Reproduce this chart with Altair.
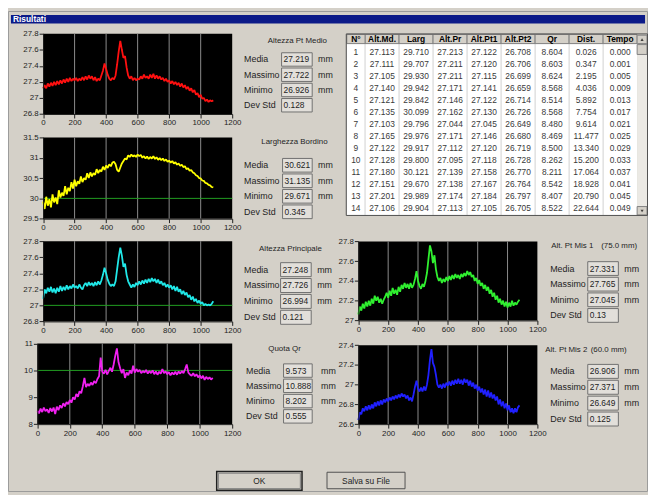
import altair as alt
import pandas as pd

FONT = "Liberation Sans"
DIALOG = "#d4d0c8"
TXT = "#1e1e1e"
W, H = 648, 487

# sample index along the measured profile
sample = list(range(0, 1090, 10))

alt_pt_medio = [
    27.12, 27.16, 27.12, 27.18, 27.14, 27.19, 27.15, 27.20, 27.16, 27.21,
    27.17, 27.22, 27.18, 27.23, 27.19, 27.24, 27.20, 27.25, 27.21, 27.24,
    27.22, 27.25, 27.21, 27.24, 27.22, 27.26, 27.22, 27.27, 27.23, 27.28,
    27.24, 27.27, 27.22, 27.26, 27.21, 27.24, 27.22, 27.28, 27.34, 27.43,
    27.36, 27.29, 27.24, 27.22, 27.25, 27.23, 27.28, 27.42, 27.58, 27.71,
    27.60, 27.50, 27.52, 27.38, 27.28, 27.24, 27.27, 27.22, 27.25, 27.22,
    27.24, 27.23, 27.27, 27.24, 27.29, 27.25, 27.27, 27.24, 27.29, 27.25,
    27.30, 27.24, 27.28, 27.24, 27.27, 27.23, 27.25, 27.21, 27.24, 27.20,
    27.22, 27.18, 27.21, 27.17, 27.20, 27.16, 27.19, 27.14, 27.18, 27.13,
    27.16, 27.11, 27.14, 27.09, 27.12, 27.07, 27.10, 27.04, 27.06, 27.01,
    27.04, 26.99, 27.00, 26.96, 26.98, 26.95, 26.97, 26.96, 26.97,
]

larghezza_bordino = [
    29.92, 29.74, 30.04, 29.82, 29.98, 29.78, 30.10, 29.90, 30.02, 29.86,
    30.20, 30.02, 30.14, 30.06, 30.30, 30.10, 30.26, 30.18, 30.40, 30.24,
    30.46, 30.30, 30.42, 30.36, 30.54, 30.40, 30.50, 30.46, 30.62, 30.50,
    30.64, 30.54, 30.62, 30.58, 30.72, 30.62, 30.70, 30.66, 30.78, 30.70,
    30.81, 30.75, 30.84, 30.79, 30.88, 30.90, 30.84, 30.70, 30.66, 30.76,
    30.86, 30.92, 30.98, 30.96, 31.06, 31.02, 31.08, 31.03, 31.06, 31.02,
    31.08, 31.04, 31.07, 31.00, 31.04, 30.98, 31.03, 30.97, 31.02, 30.98,
    31.04, 30.97, 31.01, 30.95, 30.99, 30.94, 30.98, 30.92, 30.96, 30.90,
    30.93, 30.88, 30.92, 30.86, 30.89, 30.83, 30.86, 30.80, 30.83, 30.77,
    30.79, 30.72, 30.74, 30.68, 30.70, 30.64, 30.62, 30.57, 30.55, 30.50,
    30.49, 30.44, 30.43, 30.38, 30.37, 30.33, 30.32, 30.28, 30.27,
]

altezza_principale = [
    27.08, 27.20, 27.15, 27.22, 27.17, 27.23, 27.16, 27.21, 27.15, 27.22,
    27.17, 27.24, 27.18, 27.23, 27.19, 27.25, 27.20, 27.24, 27.21, 27.26,
    27.22, 27.24, 27.21, 27.26, 27.22, 27.20, 27.25, 27.28, 27.24, 27.29,
    27.25, 27.28, 27.24, 27.29, 27.25, 27.30, 27.26, 27.31, 27.38, 27.47,
    27.40, 27.32, 27.27, 27.24, 27.26, 27.24, 27.30, 27.45, 27.60, 27.72,
    27.62, 27.48, 27.52, 27.38, 27.30, 27.26, 27.22, 27.26, 27.23, 27.28,
    27.25, 27.30, 27.26, 27.31, 27.27, 27.32, 27.28, 27.33, 27.29, 27.34,
    27.30, 27.33, 27.28, 27.32, 27.27, 27.30, 27.25, 27.28, 27.23, 27.26,
    27.22, 27.25, 27.20, 27.24, 27.18, 27.23, 27.17, 27.20, 27.14, 27.18,
    27.13, 27.16, 27.10, 27.13, 27.07, 27.11, 27.05, 27.08, 27.03, 27.06,
    27.02, 27.04, 27.00, 27.02, 27.00, 27.01, 27.00, 27.02, 27.05,
]

quota_qr = [
    8.50, 8.40, 8.58, 8.45, 8.62, 8.48, 8.55, 8.42, 8.60, 8.47,
    8.62, 8.38, 8.65, 8.52, 8.70, 8.60, 8.78, 8.66, 8.82, 8.74,
    8.90, 8.80, 9.00, 8.92, 9.12, 9.02, 9.22, 9.15, 9.40, 9.72,
    9.38, 9.50, 9.42, 9.55, 9.46, 9.60, 9.52, 9.68, 9.78, 10.48,
    9.95, 9.88, 10.02, 9.85, 9.98, 10.10, 9.95, 10.22, 10.55, 10.82,
    10.30, 10.08, 9.90, 10.05, 9.72, 9.92, 9.82, 10.00, 9.88, 10.18,
    9.92, 10.05, 9.95, 10.02, 9.90, 9.98, 9.92, 10.02, 9.88, 9.98,
    9.90, 10.00, 9.86, 9.96, 9.84, 9.95, 9.88, 10.05, 9.90, 9.96,
    9.86, 9.94, 9.82, 9.92, 9.85, 9.95, 9.84, 9.96, 9.88, 9.98,
    9.90, 10.05, 10.22, 9.92, 9.85, 9.80, 9.90, 9.78, 9.86, 9.74,
    9.82, 9.70, 9.80, 9.65, 9.76, 9.68, 9.74, 9.66, 9.72,
]

alt_pt_mis1 = [
    27.06, 27.14, 27.10, 27.17, 27.12, 27.19, 27.14, 27.20, 27.15, 27.22,
    27.17, 27.25, 27.20, 27.24, 27.18, 27.22, 27.17, 27.21, 27.24, 27.28,
    27.23, 27.30, 27.25, 27.33, 27.27, 27.31, 27.26, 27.34, 27.29, 27.36,
    27.32, 27.38, 27.33, 27.37, 27.32, 27.38, 27.33, 27.36, 27.42, 27.50,
    27.40, 27.35, 27.32, 27.37, 27.34, 27.40, 27.48, 27.62, 27.76, 27.70,
    27.58, 27.66, 27.52, 27.44, 27.40, 27.43, 27.38, 27.42, 27.39, 27.44,
    27.40, 27.45, 27.41, 27.46, 27.42, 27.47, 27.43, 27.46, 27.42, 27.47,
    27.44, 27.48, 27.45, 27.50, 27.46, 27.49, 27.44, 27.46, 27.40, 27.43,
    27.37, 27.41, 27.35, 27.38, 27.32, 27.36, 27.30, 27.34, 27.27, 27.31,
    27.24, 27.28, 27.21, 27.25, 27.18, 27.22, 27.16, 27.20, 27.14, 27.19,
    27.13, 27.18, 27.14, 27.20, 27.15, 27.18, 27.16, 27.19, 27.21,
]

alt_pt_mis2 = [
    26.64, 26.72, 26.70, 26.76, 26.73, 26.78, 26.74, 26.79, 26.75, 26.80,
    26.76, 26.82, 26.78, 26.83, 26.79, 26.84, 26.80, 26.85, 26.82, 26.86,
    26.83, 26.87, 26.84, 26.88, 26.85, 26.89, 26.86, 26.90, 26.87, 26.91,
    26.88, 26.90, 26.86, 26.89, 26.84, 26.87, 26.83, 26.90, 26.98, 27.04,
    26.96, 26.93, 26.97, 26.93, 26.98, 26.94, 27.00, 27.10, 27.25, 27.36,
    27.22, 27.18, 27.10, 27.00, 26.97, 27.00, 26.96, 27.01, 26.97, 27.02,
    26.99, 27.03, 26.99, 27.04, 27.00, 27.05, 27.01, 27.06, 27.01, 27.05,
    27.00, 27.06, 27.02, 27.05, 26.99, 27.04, 26.98, 27.02, 26.96, 27.00,
    26.94, 26.98, 26.92, 26.96, 26.90, 26.95, 26.88, 26.94, 26.87, 26.92,
    26.86, 26.90, 26.84, 26.88, 26.80, 26.85, 26.78, 26.83, 26.76, 26.81,
    26.74, 26.79, 26.72, 26.76, 26.71, 26.76, 26.72, 26.77, 26.79,
]

x_ticks = [0, 200, 400, 600, 800, 1000, 1200]
grid_x = [200, 400, 600, 800, 1000]

stat_names = ["Media", "Massimo", "Minimo", "Dev Std"]
stat_units = ["mm", "mm", "mm", ""]
stats_pt_medio = ["27.219", "27.722", "26.926", "0.128"]
stats_bordino = ["30.621", "31.135", "29.671", "0.345"]
stats_principale = ["27.248", "27.726", "26.994", "0.121"]
stats_qr = ["9.573", "10.888", "8.202", "0.555"]
stats_mis1 = ["27.331", "27.765", "27.045", "0.13"]
stats_mis2 = ["26.906", "27.371", "26.649", "0.125"]

table_cols = ["Alt.Md.", "Larg", "Alt.Pr", "Alt.Pt1", "Alt.Pt2", "Qr", "Dist.", "Tempo"]
table_rows = [
    ["27.113", "29.710", "27.213", "27.122", "26.708", "8.604", "0.026", "0.000"],
    ["27.111", "29.707", "27.211", "27.120", "26.706", "8.603", "0.347", "0.001"],
    ["27.105", "29.930", "27.211", "27.115", "26.699", "8.624", "2.195", "0.005"],
    ["27.140", "29.942", "27.171", "27.141", "26.659", "8.568", "4.036", "0.009"],
    ["27.121", "29.842", "27.146", "27.122", "26.714", "8.514", "5.892", "0.013"],
    ["27.135", "30.099", "27.162", "27.130", "26.726", "8.568", "7.754", "0.017"],
    ["27.103", "29.796", "27.044", "27.045", "26.649", "8.480", "9.614", "0.021"],
    ["27.165", "29.976", "27.171", "27.146", "26.680", "8.469", "11.477", "0.025"],
    ["27.122", "29.917", "27.112", "27.120", "26.719", "8.500", "13.340", "0.029"],
    ["27.128", "29.800", "27.095", "27.118", "26.728", "8.262", "15.200", "0.033"],
    ["27.180", "30.121", "27.139", "27.158", "26.770", "8.211", "17.064", "0.037"],
    ["27.151", "29.670", "27.138", "27.167", "26.764", "8.542", "18.928", "0.041"],
    ["27.201", "29.989", "27.174", "27.184", "26.797", "8.407", "20.790", "0.045"],
    ["27.106", "29.904", "27.113", "27.105", "26.705", "8.522", "22.644", "0.049"],
]

one = pd.DataFrame({"k": [0]})


def axis_kw():
    return dict(grid=False, title=None, labelFont=FONT, labelFontSize=8, labelColor=TXT,
                tickColor=TXT, domainColor=TXT, tickSize=4, labelPadding=1,
                labelFlush=False, labelOverlap=False, zindex=1)


def trace(values, color, ydom, yticks, xr, yr, ref=None):
    xs = alt.Scale(domain=[0, 1200], range=xr, nice=False, zero=False)
    ys = alt.Scale(domain=ydom, range=[yr[1], yr[0]], nice=False, zero=False)
    xa = alt.Axis(orient="bottom", offset=yr[1] - H, values=x_ticks, format="d", **axis_kw())
    ya = alt.Axis(orient="left", offset=-xr[0], values=yticks, format="~g", **axis_kw())
    frame = pd.DataFrame({"x0": [0], "x1": [1200], "y0": [ydom[0]], "y1": [ydom[1]]})
    layers = [
        alt.Chart(frame).mark_rect(color="black").encode(
            x=alt.X("x0:Q", scale=xs, axis=xa), x2="x1:Q",
            y=alt.Y("y0:Q", scale=ys, axis=ya), y2="y1:Q"),
        alt.Chart(pd.DataFrame({"gx": grid_x, "y0": ydom[0], "y1": ydom[1]})).mark_rule(
            color="#8c8c8c", strokeWidth=1).encode(
            x=alt.X("gx:Q", scale=xs, axis=xa),
            y=alt.Y("y0:Q", scale=ys, axis=ya), y2="y1:Q"),
    ]
    if ref is not None:
        layers.append(
            alt.Chart(pd.DataFrame({"x0": [0], "x1": [1200], "ry": [ref]})).mark_rule(
                color="#22a022", strokeWidth=1).encode(
                x=alt.X("x0:Q", scale=xs, axis=xa), x2="x1:Q",
                y=alt.Y("ry:Q", scale=ys, axis=ya)))
    layers.append(
        alt.Chart(pd.DataFrame({"x": sample, "v": values})).mark_line(
            color=color, strokeWidth=1.8, strokeJoin="bevel").encode(
            x=alt.X("x:Q", scale=xs, axis=xa),
            y=alt.Y("v:Q", scale=ys, axis=ya)))
    return alt.layer(*layers)


def text_at(t, x, y, size=8.5, align="center", color=TXT, weight="normal"):
    return alt.Chart(pd.DataFrame({"t": [t]})).mark_text(
        align=align, baseline="middle", font=FONT, fontSize=size, color=color,
        fontWeight=weight).encode(x=alt.value(x), y=alt.value(y), text="t:N")


def rect_at(x1, x2, y1, y2, **kw):
    return alt.Chart(one).mark_rect(**kw).encode(
        x=alt.value(x1), x2=alt.value(x2), y=alt.value(y1), y2=alt.value(y2))


def panel(titles, title_y, values, label_x, box_x, unit_x, band):
    df = pd.DataFrame({"stat": stat_names, "val": values, "unit": stat_units})
    ys = alt.Scale(domain=stat_names, range=band, paddingInner=0.12, paddingOuter=0.05)
    y = alt.Y("stat:N", scale=ys, axis=None)
    txt = dict(baseline="middle", font=FONT, color=TXT)
    layers = [
        alt.Chart(df).mark_rect(fill="#e2dfda", stroke="#707070", strokeWidth=1).encode(
            x=alt.value(box_x[0]), x2=alt.value(box_x[1]), y=y),
        alt.Chart(df).mark_text(align="left", fontSize=9, **txt).encode(
            x=alt.value(label_x), y=y, text="stat:N"),
        alt.Chart(df).mark_text(align="left", fontSize=8.5, **txt).encode(
            x=alt.value(box_x[0] + 2), y=y, text="val:N"),
        alt.Chart(df).mark_text(align="left", fontSize=9, **txt).encode(
            x=alt.value(unit_x), y=y, text="unit:N"),
    ]
    for t, tx, al in titles:
        layers.append(text_at(t, tx, title_y, size=8, align=al))
    return alt.layer(*layers)


def table():
    cells = pd.DataFrame([
        {"row": i + 1, "col": c, "val": v}
        for i, r in enumerate(table_rows) for c, v in zip(table_cols, r)
    ])
    heads = pd.DataFrame({"col": table_cols})
    rows = pd.DataFrame({"row": list(range(1, len(table_rows) + 1))})
    xs = alt.Scale(domain=table_cols, range=[361.5, 637], paddingInner=0, paddingOuter=0)
    ys = alt.Scale(domain=list(range(1, len(table_rows) + 1)), range=[35.9, 206],
                   paddingInner=0, paddingOuter=0)
    X = alt.X("col:N", scale=xs, axis=None)
    Y = alt.Y("row:O", scale=ys, axis=None)
    return alt.layer(
        rect_at(343, 637, 33, 206.5, fill="white"),
        alt.Chart(heads).mark_rule(color="#d0d0d0").encode(
            x=alt.X("col:N", scale=xs, axis=None, bandPosition=0),
            y=alt.value(33), y2=alt.value(206.5)),
        alt.Chart(heads).mark_rect(fill=DIALOG, stroke="#808080", strokeWidth=1).encode(
            x=X, y=alt.value(23.7), y2=alt.value(33)),
        rect_at(343, 361.5, 23.7, 33, fill=DIALOG, stroke="#808080", strokeWidth=1),
        alt.Chart(heads).mark_text(baseline="middle", font=FONT, fontSize=8.5,
                                   fontWeight="bold", color="black").encode(
            x=X, y=alt.value(28.6), text="col:N"),
        text_at("N°", 352.2, 28.6, size=8.5, color="black", weight="bold"),
        alt.Chart(cells).mark_text(baseline="middle", font=FONT, fontSize=8.5,
                                   color="#3a3a3a").encode(x=X, y=Y, text="val:N"),
        alt.Chart(rows).mark_text(baseline="middle", font=FONT, fontSize=8.5,
                                  color="#3a3a3a").encode(
            x=alt.value(352.2), y=Y, text="row:N"),
        rect_at(637, 647, 23.7, 206.5, fill="#ebe9e4"),
        rect_at(637, 647, 24.5, 33, fill=DIALOG, stroke="#808080", strokeWidth=1),
        rect_at(637, 647, 34, 44, fill=DIALOG, stroke="#808080", strokeWidth=1),
        rect_at(637, 647, 198, 206.5, fill=DIALOG, stroke="#808080", strokeWidth=1),
        alt.Chart(one).mark_point(shape="triangle-up", filled=True, color="black", size=10).encode(
            x=alt.value(642), y=alt.value(29)),
        alt.Chart(one).mark_point(shape="triangle-down", filled=True, color="black", size=10).encode(
            x=alt.value(642), y=alt.value(202.5)),
        rect_at(342.5, 647.5, 23.2, 207, fill=None, stroke="#505050", strokeWidth=1),
    )


parts = [
    # dialog frame and title bar
    rect_at(0.5, 647.5, 0.5, 486.5, fill=None, stroke="#9a9a9a", strokeWidth=1),
    rect_at(3, 645, 4, 12.7, fill="#0c1a88"),
    text_at("Risultati", 5, 8.4, size=8.5, align="left", color="white", weight="bold"),
    # traces
    trace(alt_pt_medio, "#ff1010", [26.8, 27.8], [26.8, 27, 27.2, 27.4, 27.6, 27.8],
          [35.5, 227], [23, 104.3]),
    trace(larghezza_bordino, "#ffff00", [29.5, 31.5], [29.5, 30, 30.5, 31, 31.5],
          [35.5, 227], [128, 210.3], ref=30),
    trace(altezza_principale, "#20e8e8", [26.8, 27.8], [26.8, 27, 27.2, 27.4, 27.6, 27.8],
          [35.5, 227], [233, 314.3], ref=27),
    trace(quota_qr, "#f020f0", [8, 11], [8, 9, 10, 11],
          [29.7, 227], [336.7, 418.3], ref=10),
    trace(alt_pt_mis1, "#30f030", [27, 27.8], [27, 27.2, 27.4, 27.6, 27.8],
          [354.7, 536], [233.3, 313.3]),
    trace(alt_pt_mis2, "#2020ff", [26.6, 27.4], [26.6, 26.8, 27, 27.2, 27.4],
          [354.7, 536], [338.3, 418.3]),
    # statistic panels
    panel([("Altezza Pt Medio", 293, "center")], 30, stats_pt_medio, 239, [277, 308], 314, [41.5, 103]),
    panel([("Larghezza Bordino", 290, "center")], 133, stats_bordino, 239, [278, 308], 314, [148.5, 211]),
    panel([("Altezza Principale", 286, "center")], 241, stats_principale, 239, [276, 307], 313, [254, 318]),
    panel([("Quota Qr", 280, "center")], 342, stats_qr, 241, [279, 308], 317, [356.5, 418]),
    panel([("Alt. Pt Mis 1", 550, "left"), ("(75.0 mm)", 637, "right")], 238, stats_mis1,
          549, [587, 618], 624, [253, 316]),
    panel([("Alt. Pt Mis 2", 544, "left"), ("(60.0 mm)", 590, "left")], 343, stats_mis2,
          549, [587, 618], 624, [357, 421]),
    # results table
    table(),
    # buttons
    rect_at(211.3, 297.7, 466.3, 485.3, fill=DIALOG, stroke="#202020", strokeWidth=1.5),
    rect_at(213, 296, 468, 483.6, fill=None, stroke="#808080", strokeWidth=1),
    text_at("OK", 254.5, 476, size=8.5),
    rect_at(323, 402, 467, 483.7, fill=DIALOG, stroke="#505050", strokeWidth=1),
    text_at("Salva su File", 362.5, 475.5, size=8.5),
]

chart = alt.layer(*parts).resolve_scale(
    x="independent", y="independent"
).properties(
    width=W, height=H, background=DIALOG, padding=0,
    autosize=alt.AutoSizeParams(type="none"),
).configure_view(strokeWidth=0)

chart.save("out.html", embed_options={"renderer": "svg", "actions": False})
